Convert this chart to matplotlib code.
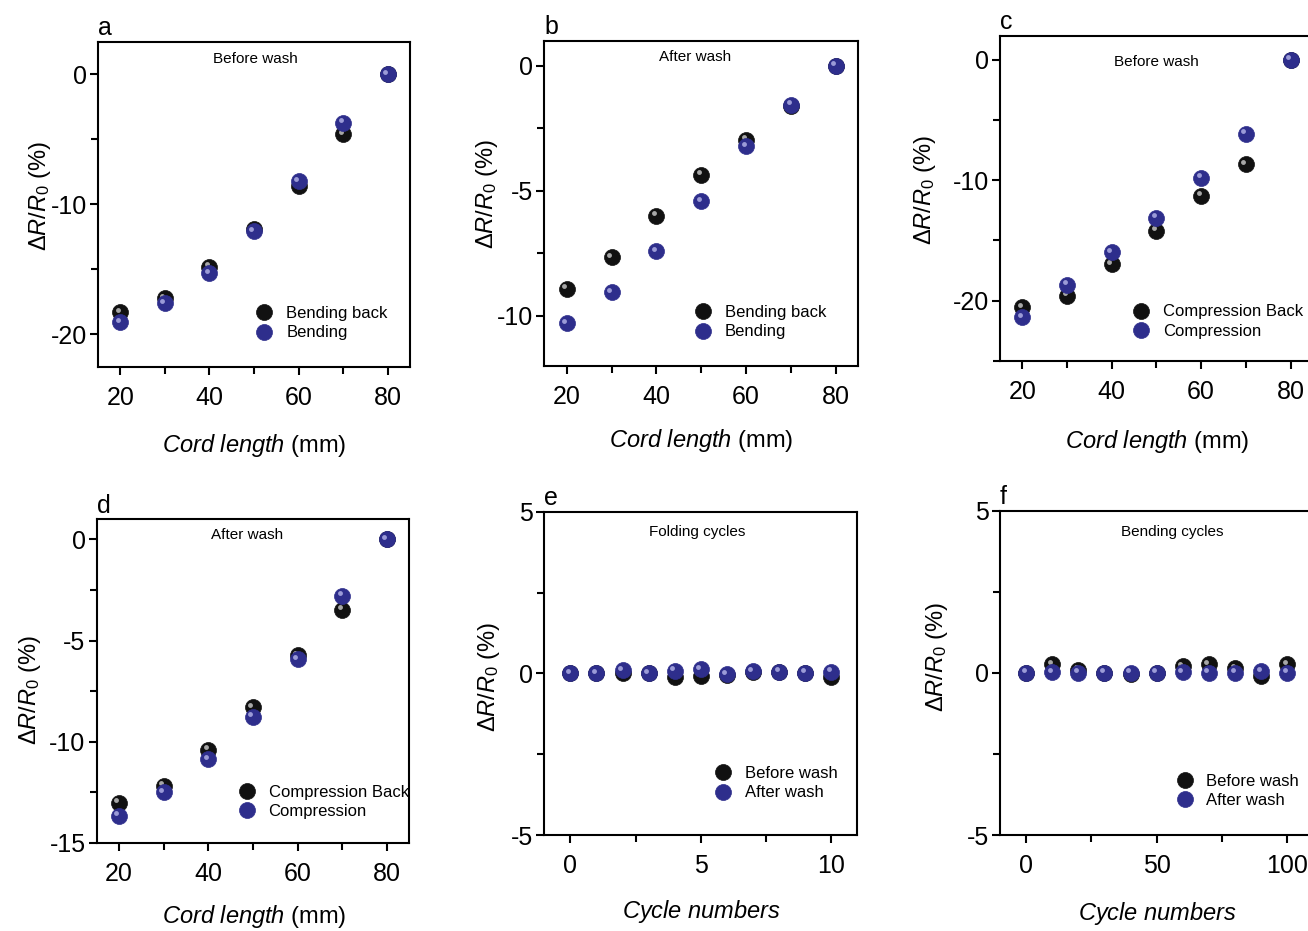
import matplotlib
matplotlib.use("Agg")
import matplotlib.pyplot as plt
from matplotlib.ticker import MultipleLocator
from matplotlib.transforms import offset_copy

plt.rcParams['font.family'] = ['Liberation Sans', 'DejaVu Sans']
plt.rcParams['mathtext.fontset'] = 'custom'
plt.rcParams['mathtext.rm'] = 'Liberation Sans'
plt.rcParams['mathtext.it'] = 'Liberation Sans:italic'
plt.rcParams['axes.unicode_minus'] = False

# data
cord = [20, 30, 40, 50, 60, 70, 80]
bend_back_before = [-18.3, -17.2, -14.8, -11.9, -8.6, -4.6, 0.0]
bend_before = [-19.05, -17.6, -15.3, -12.05, -8.2, -3.7, 0.0]
bend_back_after = [-8.93, -7.67, -6.0, -4.36, -2.97, -1.6, 0.0]
bend_after = [-10.3, -9.07, -7.43, -5.43, -3.23, -1.57, 0.0]
comp_back_before = [-20.56, -19.6, -17.0, -14.2, -11.3, -8.65, 0.0]
comp_before = [-21.4, -18.7, -16.0, -13.1, -9.8, -6.15, 0.0]
comp_back_after = [-13.03, -12.18, -10.4, -8.3, -5.72, -3.49, 0.0]
comp_after = [-13.66, -12.5, -10.87, -8.77, -5.93, -2.79, 0.0]

fold_cycles = [0, 1, 2, 3, 4, 5, 6, 7, 8, 9, 10]
fold_before_wash = [0.0, 0.0, 0.02, 0.0, -0.12, -0.08, -0.05, 0.05, 0.05, 0.02, -0.1]
fold_after_wash = [0.0, 0.0, 0.1, 0.0, 0.08, 0.13, -0.03, 0.07, 0.05, 0.02, 0.05]

bend_cycles = [0, 10, 20, 30, 40, 50, 60, 70, 80, 90, 100]
bend_before_wash = [0.0, 0.26, 0.1, 0.0, -0.02, 0.0, 0.2, 0.26, 0.15, -0.1, 0.26]
bend_after_wash = [0.0, 0.02, 0.0, 0.0, 0.0, 0.0, 0.02, 0.0, 0.0, 0.05, 0.0]

cord_label = r'$\mathit{Cord\ length}$ (mm)'
cycle_label = r'$\mathit{Cycle\ numbers}$'
ylab = r'$\mathit{\Delta R/R_0}$ (%)'

panels = [
    dict(tag='a', x=cord, ys=(bend_back_before, bend_before), names=('Bending back', 'Bending'),
         note='Before wash', xlim=(15, 85), ylim=(-22.5, 2.5), xmaj=20, xmin=10, ymaj=10, ymin=5,
         xlabel=cord_label),
    dict(tag='b', x=cord, ys=(bend_back_after, bend_after), names=('Bending back', 'Bending'),
         note='After wash', xlim=(15, 85), ylim=(-12, 1), xmaj=20, xmin=10, ymaj=5, ymin=2.5,
         xlabel=cord_label),
    dict(tag='c', x=cord, ys=(comp_back_before, comp_before), names=('Compression Back', 'Compression'),
         note='Before wash', xlim=(15, 85), ylim=(-25, 2), xmaj=20, xmin=10, ymaj=10, ymin=5,
         xlabel=cord_label),
    dict(tag='d', x=cord, ys=(comp_back_after, comp_after), names=('Compression Back', 'Compression'),
         note='After wash', xlim=(15, 85), ylim=(-15, 1), xmaj=20, xmin=10, ymaj=5, ymin=2.5,
         xlabel=cord_label),
    dict(tag='e', x=fold_cycles, ys=(fold_before_wash, fold_after_wash), names=('Before wash', 'After wash'),
         note='Folding cycles', xlim=(-1, 11), ylim=(-5, 5), xmaj=5, xmin=2.5, ymaj=5, ymin=2.5,
         xlabel=cycle_label),
    dict(tag='f', x=bend_cycles, ys=(bend_before_wash, bend_after_wash), names=('Before wash', 'After wash'),
         note='Bending cycles', xlim=(-10, 110), ylim=(-5, 5), xmaj=50, xmin=25, ymaj=5, ymin=2.5,
         xlabel=cycle_label),
]

# layout (figure fractions / axes fractions)
rects = [[0.0749, 0.6058, 0.2385, 0.3491], [0.4161, 0.6072, 0.2401, 0.3491],
         [0.7645, 0.6126, 0.2393, 0.3488], [0.0739, 0.0949, 0.2390, 0.3474],
         [0.4161, 0.1031, 0.2393, 0.3473], [0.7645, 0.1031, 0.2397, 0.3483]]
note_pos = [(0.503, 0.948), (0.48, 0.95), (0.50, 0.921), (0.48, 0.95), (0.487, 0.938), (0.548, 0.935)]
leg_pos = [(0.507, 0.082), (0.479, 0.081), (0.425, 0.068), (0.454, 0.074), (0.546, 0.107), (0.562, 0.084)]
ylab_pos = [(-0.144, 0.526), (-0.141, 0.53), (-0.197, 0.526), (-0.171, 0.472), (-0.136, 0.49), (-0.159, 0.55)]
xlab_pos = [(0.5, -0.2), (0.5, -0.19), (0.503, -0.207), (0.503, -0.187), (0.503, -0.196), (0.502, -0.2)]

colors = ['#111111', '#2e2e8c']
shine = ['#b8b8b8', '#a8a8e0']

fig = plt.figure(figsize=(13.08, 9.31), dpi=100)

for p, rect, npos, lpos, ypos, xpos in zip(panels, rects, note_pos, leg_pos, ylab_pos, xlab_pos):
    ax = fig.add_axes(rect)
    hl = offset_copy(ax.transData, fig=fig, x=-1.8, y=1.8, units='points')
    handles = []
    for k, y in enumerate(p['ys']):
        h, = ax.plot(p['x'], y, 'o', ms=11.5, color=colors[k], mec=colors[k], mew=0.5,
                     linestyle='none', zorder=3 + 2 * k, label=p['names'][k])
        ax.plot(p['x'], y, 'o', ms=3.5, color=shine[k], mew=0, linestyle='none',
                alpha=0.9, transform=hl, zorder=4 + 2 * k)
        handles.append(h)

    ax.set_xlim(*p['xlim'])
    ax.set_ylim(*p['ylim'])
    ax.xaxis.set_major_locator(MultipleLocator(p['xmaj']))
    ax.xaxis.set_minor_locator(MultipleLocator(p['xmin']))
    ax.yaxis.set_major_locator(MultipleLocator(p['ymaj']))
    ax.yaxis.set_minor_locator(MultipleLocator(p['ymin']))
    ax.tick_params(which='both', direction='out', top=False, right=False, width=1.5)
    ax.tick_params(which='major', length=6, labelsize=18)
    ax.tick_params(which='minor', length=5)
    ax.tick_params(axis='x', which='major', pad=8)
    ax.tick_params(axis='y', which='major', pad=2)
    for s in ax.spines.values():
        s.set_linewidth(1.5)

    ax.set_xlabel(p['xlabel'], fontsize=17)
    ax.set_ylabel(ylab, fontsize=17)
    ax.xaxis.set_label_coords(*xpos)
    ax.yaxis.set_label_coords(*ypos)

    ax.text(npos[0], npos[1], p['note'], transform=ax.transAxes, ha='center', va='center', fontsize=11)
    ax.text(0.0, 1.005, p['tag'], transform=ax.transAxes, ha='left', va='bottom', fontsize=18)

    ax.legend(handles=handles, loc='lower left', bbox_to_anchor=lpos, frameon=False, fontsize=12,
              handlelength=1.0, handletextpad=0.8, labelspacing=0.25, borderpad=0, borderaxespad=0)

fig.savefig('out.png', dpi=100)
